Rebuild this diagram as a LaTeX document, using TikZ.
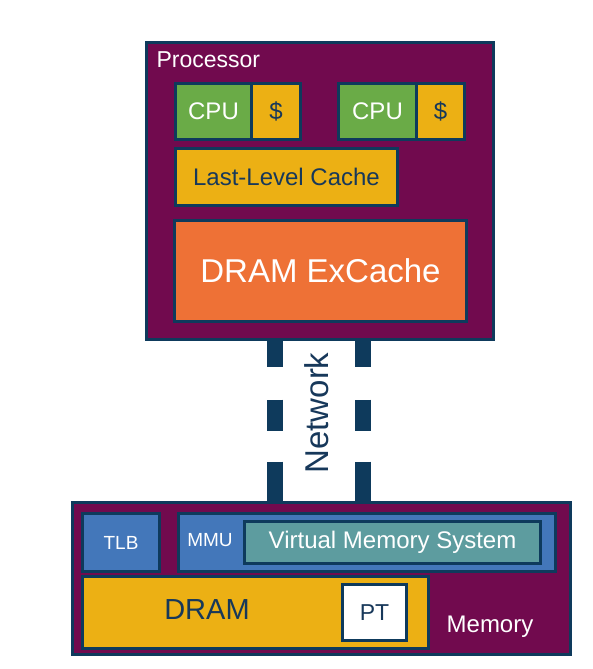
\documentclass[tikz,border=0pt]{standalone}
\usepackage{fontspec}
\setmainfont{Liberation Sans}
\usepackage{tikz}
\usepackage{xcolor}

\definecolor{procpurple}{HTML}{710A4E}
\definecolor{edgenavy}{HTML}{0E3A5C}
\definecolor{cpugreen}{HTML}{6AAB47}
\definecolor{cachegold}{HTML}{ECB014}
\definecolor{dramorange}{HTML}{EE7136}
\definecolor{mmublue}{HTML}{4377BA}
\definecolor{vmsteal}{HTML}{5D9C9F}
\definecolor{textnavy}{HTML}{17385A}

\tikzset{
    blk/.style={draw=edgenavy, line width=3pt, inner sep=0pt, anchor=north west, align=center},
    netlink/.style={edgenavy, line width=16pt, dash pattern=on 26pt off 33pt on 31pt off 31pt on 45pt off 1pt},
}

\begin{document}
\begin{tikzpicture}[x=1pt,y=-1pt]
\useasboundingbox (0,0) rectangle (593,669);

    % Processor
    \node[blk, fill=procpurple, minimum width=347pt, minimum height=296pt] (proc) at (144.5,41.5) {};
    \node[anchor=west, text=white, font=\fontsize{23}{23}\selectfont] (proclbl) at (153,60) {Processor};
    \node[blk, fill=cpugreen, minimum width=76pt, minimum height=56pt, text=white, font=\fontsize{24}{24}\selectfont] (cpuA) at (174,82) {CPU};
    \node[blk, fill=cachegold, minimum width=49pt, minimum height=56pt, text=textnavy, font=\fontsize{24}{24}\selectfont] (l1A) at (250,82) {\$};
    \node[blk, fill=cpugreen, minimum width=78pt, minimum height=56pt, text=white, font=\fontsize{24}{24}\selectfont] (cpuB) at (337,82) {CPU};
    \node[blk, fill=cachegold, minimum width=48pt, minimum height=56pt, text=textnavy, font=\fontsize{24}{24}\selectfont] (l1B) at (415,82) {\$};
    \node[blk, fill=cachegold, minimum width=222pt, minimum height=57pt, text=textnavy, font=\fontsize{24}{24}\selectfont] (llc) at (174,147) {Last-Level Cache};
    \node[blk, fill=dramorange, minimum width=292pt, minimum height=101pt, text=white, font=\fontsize{33}{33}\selectfont] (excache) at (173,219) {DRAM ExCache};

    % Memory
    \node[blk, fill=procpurple, minimum width=498pt, minimum height=152pt] (mem) at (70.5,500.5) {};
    \node[blk, fill=mmublue, minimum width=77pt, minimum height=58pt, text=white, font=\fontsize{19}{19}\selectfont] (tlb) at (81,512) {TLB};
    \node[blk, fill=mmublue, minimum width=377pt, minimum height=58pt] (mmu) at (177,512) {};
    \node[text=white, font=\fontsize{19}{19}\selectfont] (mmulbl) at (210,540) {MMU};
    \node[blk, fill=vmsteal, minimum width=296pt, minimum height=42pt, text=white, font=\fontsize{24}{24}\selectfont] (vms) at (243,520) {Virtual Memory System};
    \node[blk, fill=cachegold, minimum width=346pt, minimum height=72pt] (dram) at (81,575) {};
    \node[text=textnavy, font=\fontsize{29}{29}\selectfont] (dramlbl) at (207,610) {DRAM};
    \node[blk, fill=white, minimum width=64pt, minimum height=56pt, text=textnavy, font=\fontsize{23}{23}\selectfont] (pt) at (341,583) {PT};
    \node[text=white, font=\fontsize{24}{24}\selectfont] (memlbl) at (490,627) {Memory};

    % Network
    \coordinate (netL) at (275,420);
    \coordinate (netR) at (363,420);
    \draw[netlink] (proc.south -| netL) -- (mem.north -| netL);
    \draw[netlink] (proc.south -| netR) -- (mem.north -| netR);
    \node[rotate=90, text=textnavy, font=\fontsize{33}{33}\selectfont] (netlbl) at (317,413) {Network};
\end{tikzpicture}
\end{document}
